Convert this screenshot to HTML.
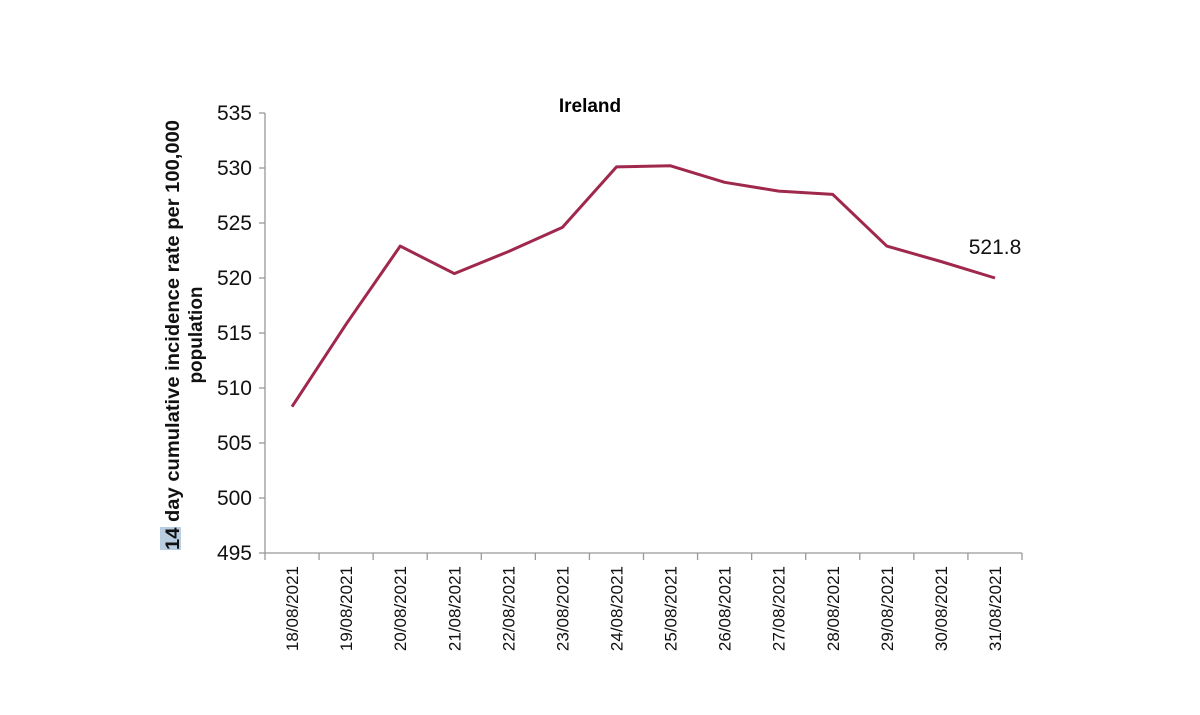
<!DOCTYPE html>
<html><head><meta charset="utf-8"><style>
body{margin:0;background:#fff}
svg text{font-family:"Liberation Sans",Arial,sans-serif}
</style></head><body>
<svg width="1200" height="710" viewBox="0 0 1200 710" xmlns="http://www.w3.org/2000/svg">
<rect width="1200" height="710" fill="#fff"/>
<text x="590" y="112" font-size="19" font-weight="bold" text-anchor="middle" fill="#000">Ireland</text>
<g stroke="#999" stroke-width="1.3" fill="none">
<line x1="265" y1="113" x2="265" y2="553"/>
<line x1="265" y1="553" x2="1022" y2="553"/>
</g>
<g stroke="#999" stroke-width="1.3" id="yt"></g>
<g stroke="#999" stroke-width="1.3" id="xt"></g>
<g font-size="21" fill="#111" text-anchor="end" id="yl"></g>
<g font-size="17" fill="#111" id="xl"></g>
<polyline id="ln" fill="none" stroke="#a0284c" stroke-width="3" stroke-linejoin="round"/>
<text x="995" y="254" font-size="21" text-anchor="middle" fill="#111">521.8</text>
<rect x="160" y="527" width="21" height="23" fill="#b9cde0"/>
<text transform="translate(179,550) rotate(-90)" font-size="19" font-weight="bold" fill="#111" textLength="430" lengthAdjust="spacingAndGlyphs">14 day cumulative incidence rate per 100,000</text>
<text transform="translate(202,335) rotate(-90)" font-size="19" font-weight="bold" text-anchor="middle" fill="#111">population</text>
<script>
var ns="http://www.w3.org/2000/svg";
function el(p,t,a,txt){var e=document.createElementNS(ns,t);for(var k in a)e.setAttribute(k,a[k]);if(txt)e.textContent=txt;document.getElementById(p).appendChild(e);}
for(var i=0;i<=8;i++){var y=553-i*55;el("yt","line",{x1:259,y1:y,x2:265,y2:y});el("yl","text",{x:252,y:y+7},String(495+i*5));}
var bw=757/14;
for(var i=0;i<=14;i++){var x=265+i*bw;el("xt","line",{x1:x,y1:553,x2:x,y2:560});}
var v=[508.3,515.8,522.9,520.4,522.4,524.6,530.1,530.2,528.7,527.9,527.6,522.9,521.5,520.0];
var pts=[];
for(var i=0;i<14;i++){var x=265+bw*(i+0.5);pts.push(x.toFixed(1)+","+(553-(v[i]-495)*11).toFixed(1));
var d=(18+i)+"/08/2021";el("xl","text",{transform:"translate("+(x+6)+",566) rotate(-90)","text-anchor":"end"},d);}
document.getElementById("ln").setAttribute("points",pts.join(" "));
</script>
</svg>
</body></html>
